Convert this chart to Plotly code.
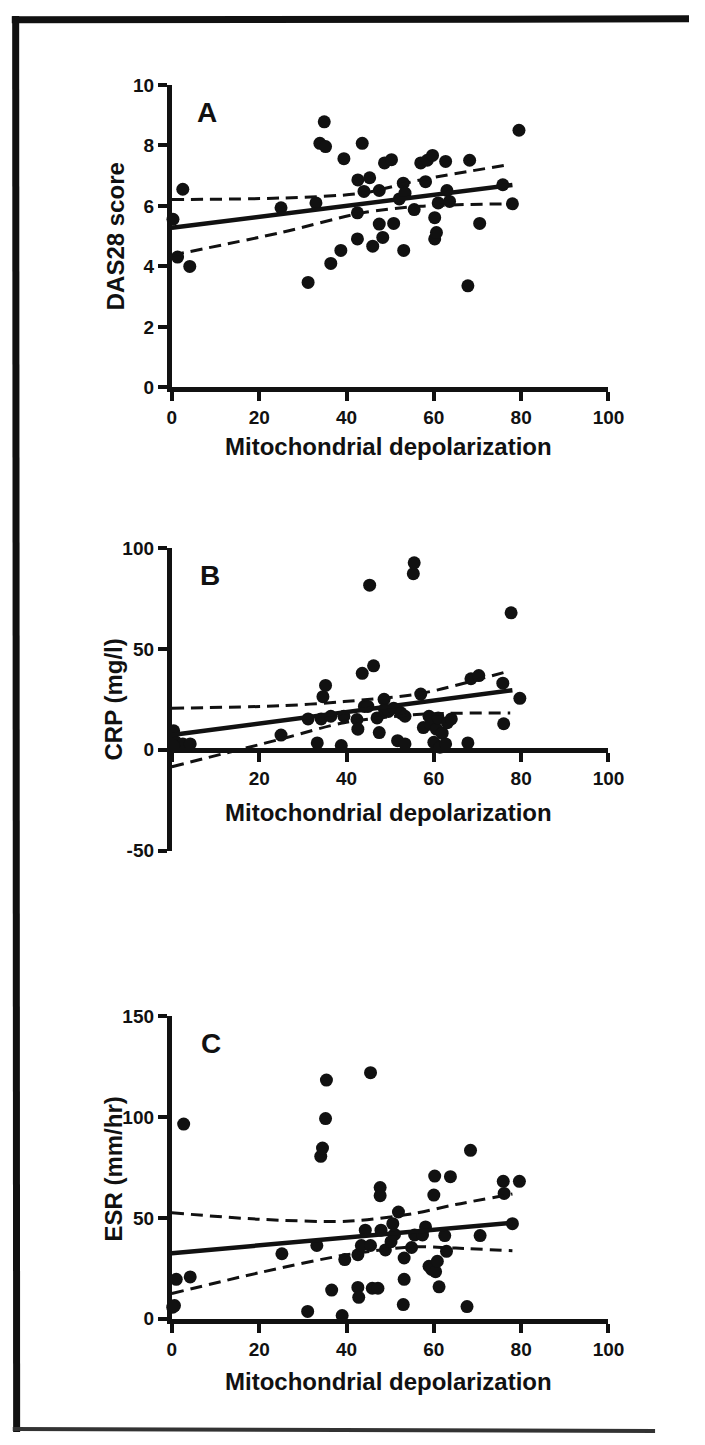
import plotly.graph_objects as go

W, H = 705, 1445

# ---------------- Data ----------------
# Panel A: DAS28 score vs mitochondrial depolarization
a_x = [0.25, 1.3, 2.5, 4.1, 25, 31.2, 33, 33.9, 35.2, 34.9, 36.4, 38.7, 39.4, 42.5, 42.5, 42.6,
       43.6, 44, 45.3, 46, 47.5, 47.5, 48.3, 48.7, 50.3, 50.8, 52.1, 53, 53.1, 53.4, 55.5, 57,
       58.1, 58.5, 59.7, 60.2, 60.2, 60.6, 61, 62.7, 63, 63.6, 68.2, 67.8, 70.5, 75.8, 78, 79.5]
a_y = [5.56, 4.31, 6.55, 4.0, 5.94, 3.47, 6.1, 8.07, 7.96, 8.78, 4.1, 4.53, 7.56, 5.77, 4.91, 6.86,
       8.07, 6.48, 6.93, 4.67, 6.51, 5.4, 4.96, 7.42, 7.53, 5.42, 6.23, 6.75, 4.53, 6.42, 5.88, 7.42,
       6.8, 7.51, 7.67, 5.61, 4.91, 5.12, 6.1, 7.47, 6.51, 6.15, 7.51, 3.36, 5.42, 6.70, 6.07, 8.5]
a_fit_x = [0, 78]
a_fit_y = [5.28, 6.69]
a_ci_x = [0, 25, 43.6, 57, 77.5]
a_ci_up = [6.21, 6.26, 6.42, 6.86, 7.37]
a_ci_lo = [4.37, 5.12, 5.77, 5.99, 6.07]

# Panel B: CRP (mg/l)
b_x = [0.4, 0.8, 2.5, 4.2, 0.4, 25, 31.2, 33.3, 34.2, 34.6, 35.2, 36.4, 38.8, 39.4, 42.4, 42.6,
       43.6, 44.1, 44.9, 45.3, 46.2, 47, 47.5, 48.6, 48.7, 49.6, 50.8, 51.7, 52.5, 53.4, 53.4,
       55.3, 55.5, 57, 57.6, 58.9, 59.3, 60, 60.6, 61, 61.4, 61.9, 62.7, 63.1, 64, 67.8, 68.5,
       70.3, 75.8, 76, 77.7, 79.7]
b_y = [9.4, 4, 2.9, 2.9, 2, 7.3, 15.3, 3.4, 15.3, 26.3, 31.9, 16.6, 2.1, 16.6, 15, 10.2,
       37.9, 21.5, 21.5, 81.6, 41.6, 15.8, 8.5, 25, 19.8, 19, 20.6, 4.5, 18.2, 2.9, 16.6,
       87.3, 92.7, 27.6, 11, 16.6, 12.6, 3.7, 10.2, 15.8, 1.3, 8.2, 2.9, 13.4, 15.3, 3.4, 35.2,
       36.8, 33, 12.9, 67.9, 25.5]
b_fit_x = [0, 78]
b_fit_y = [7.3, 29.5]
b_ci_x = [0, 25, 39.4, 57, 77.5]
b_ci_up = [20.6, 21.8, 23.9, 27.9, 39.2]
b_ci_lo = [-8.4, 5.3, 13.4, 17.6, 18.2]

# Panel C: ESR (mm/hr)
c_x = [0.6, 0.2, 1, 2.7, 4.2, 25.2, 31.1, 33.2, 34.1, 34.5, 35.2, 35.4, 36.6, 39, 39.6, 42.6,
       42.6, 42.8, 43.4, 44.3, 45.5, 45.5, 45.9, 47.2, 47.7, 47.7, 47.9, 48.9, 50.2, 50.6, 51,
       51.9, 53.2, 53.2, 53, 54.9, 55.6, 57.4, 58.1, 58.9, 59.5, 60, 60.2, 60.4, 60.8, 61.2,
       62.5, 62.9, 63.8, 67.6, 68.4, 70.6, 75.9, 76.1, 78, 79.6]
c_y = [6.5, 5.7, 19.5, 96.5, 20.7, 32.2, 3.6, 36.3, 80.5, 84.6, 99.2, 118.3, 14.2, 1.6, 29.3, 31.7,
       15.5, 10.6, 36.3, 43.9, 122, 36.3, 15.1, 15.1, 65, 61, 43.9, 34.1, 38.2, 47.1, 41.8,
       52.9, 30.1, 19.5, 7, 35.3, 41.5, 41.5, 45.5, 26, 24.4, 61.3, 70.7, 23.3, 28.5, 15.8,
       41.2, 33.4, 70.4, 6, 83.5, 41.2, 68.1, 62.1, 47.1, 68.1]
c_fit_x = [0, 78]
c_fit_y = [32.5, 47.5]
c_ci_x = [0, 20, 40, 55, 65, 78]
c_ci_up = [52.5, 49.3, 48.3, 52, 56.6, 61.8]
c_ci_lo = [12.5, 22.8, 31.7, 35.6, 35.0, 33.7]

x_ticks = [0, 20, 40, 60, 80, 100]
x_ticktext_full = ["0", "20", "40", "60", "80", "100"]
x_ticktext_b = ["", "20", "40", "60", "80", "100"]
a_yticks = [0, 2, 4, 6, 8, 10]
a_yticktext = ["0", "2", "4", "6", "8", "10"]
b_yticks = [-50, 0, 50, 100]
b_yticktext = ["-50", "0", "50", "100"]
c_yticks = [0, 50, 100, 150]
c_yticktext = ["0", "50", "100", "150"]

x_title = "Mitochondrial depolarization"
y_titles = ["DAS28 score", "CRP (mg/l)", "ESR (mm/hr)"]
letters = ["A", "B", "C"]

# ---------------- Layout helpers (pixels -> paper) ----------------
def px(xp):
    return xp / W

def py(yp):
    return 1 - yp / H

FONT = "Liberation Sans, Arial, sans-serif"
INK = "#111111"

fig = go.Figure()

panels = [
    dict(x=a_x, y=a_y, fx=a_fit_x, fy=a_fit_y, cx=a_ci_x, cu=a_ci_up, cl=a_ci_lo),
    dict(x=b_x, y=b_y, fx=b_fit_x, fy=b_fit_y, cx=b_ci_x, cu=b_ci_up, cl=b_ci_lo),
    dict(x=c_x, y=c_y, fx=c_fit_x, fy=c_fit_y, cx=c_ci_x, cu=c_ci_up, cl=c_ci_lo),
]

for i, p in enumerate(panels):
    xa = "x" if i == 0 else f"x{i+1}"
    ya = "y" if i == 0 else f"y{i+1}"
    fig.add_trace(go.Scatter(x=p["x"], y=p["y"], mode="markers", xaxis=xa, yaxis=ya,
                             marker=dict(size=13, color=INK), cliponaxis=False,
                             showlegend=False))
    for band in (p["cu"], p["cl"]):
        fig.add_trace(go.Scatter(x=p["cx"], y=band, mode="lines", xaxis=xa, yaxis=ya,
                                 line=dict(color=INK, width=3, dash="12px,7px", shape="spline",
                                           smoothing=0.8),
                                 cliponaxis=False, showlegend=False))
    fig.add_trace(go.Scatter(x=p["fx"], y=p["fy"], mode="lines", xaxis=xa, yaxis=ya,
                             line=dict(color=INK, width=4.5), cliponaxis=False,
                             showlegend=False))

tickfont = dict(family=FONT, size=19, color=INK, weight="bold")

common_x = dict(range=[0, 100], tickvals=x_ticks, showline=True, linewidth=5, linecolor=INK,
                ticks="outside", ticklen=9, tickwidth=4, tickcolor=INK, showgrid=False,
                zeroline=False, tickfont=tickfont, domain=[px(172), px(622)])
common_y = dict(showline=True, linewidth=5, linecolor=INK, ticks="outside", ticklen=9,
                tickwidth=4, tickcolor=INK, showgrid=False, zeroline=False, tickfont=tickfont)

fig.update_layout(
    width=W, height=H, margin=dict(l=0, r=0, t=0, b=0),
    paper_bgcolor="white", plot_bgcolor="white",
    xaxis=dict(**common_x, ticktext=x_ticktext_full, anchor="y"),
    yaxis=dict(**common_y, range=[0, 10], tickvals=a_yticks, ticktext=a_yticktext,
               anchor="x", domain=[py(383), py(76)]),
    xaxis2=dict(**common_x, ticktext=x_ticktext_b, anchor="free", position=py(751)),
    yaxis2=dict(**common_y, range=[-50, 100], tickvals=b_yticks, ticktext=b_yticktext,
                anchor="x2", domain=[py(853), py(546)]),
    xaxis3=dict(**common_x, ticktext=x_ticktext_full, anchor="y3"),
    yaxis3=dict(**common_y, range=[0, 150], tickvals=c_yticks, ticktext=c_yticktext,
                anchor="x3", domain=[py(1328), py(1021)]),
)

annotations = []
title_font = dict(family=FONT, size=24, color=INK, weight="bold")
letter_font = dict(family=FONT, size=28, color=INK, weight="bold")
letter_pos = [(208, 104), (211, 574), (212, 1049)]
ytitle_pos = [(114, 230), (112, 700), (112, 1176)]
xtitle_pos = [(395, 443), (395, 814), (395, 1392)]
for i in range(3):
    lx, ly = letter_pos[i]
    annotations.append(dict(text=letters[i], x=px(lx), y=py(ly), xref="paper", yref="paper",
                            showarrow=False, font=letter_font, xanchor="center", yanchor="middle"))
    tx, ty = ytitle_pos[i]
    annotations.append(dict(text=y_titles[i], x=px(tx), y=py(ty), xref="paper", yref="paper",
                            showarrow=False, font=title_font, textangle=-90,
                            xanchor="center", yanchor="middle"))
    qx, qy = xtitle_pos[i]
    annotations.append(dict(text=x_title, x=px(qx), y=py(qy), xref="paper", yref="paper",
                            showarrow=False, font=title_font, xanchor="center", yanchor="middle"))
fig.update_layout(annotations=annotations)

# Scanned frame border (top, left, bottom)
shapes = [
    dict(type="line", xref="paper", yref="paper", x0=px(7), x1=px(705), y0=py(10), y1=py(9),
         line=dict(color=INK, width=7)),
    dict(type="line", xref="paper", yref="paper", x0=px(11), x1=px(12), y0=py(6), y1=py(1443),
         line=dict(color=INK, width=7)),
    dict(type="line", xref="paper", yref="paper", x0=px(8), x1=px(670), y0=py(1440), y1=py(1442),
         line=dict(color="#333333", width=4)),
]
fig.update_layout(shapes=shapes)

fig.write_html("out.html")
